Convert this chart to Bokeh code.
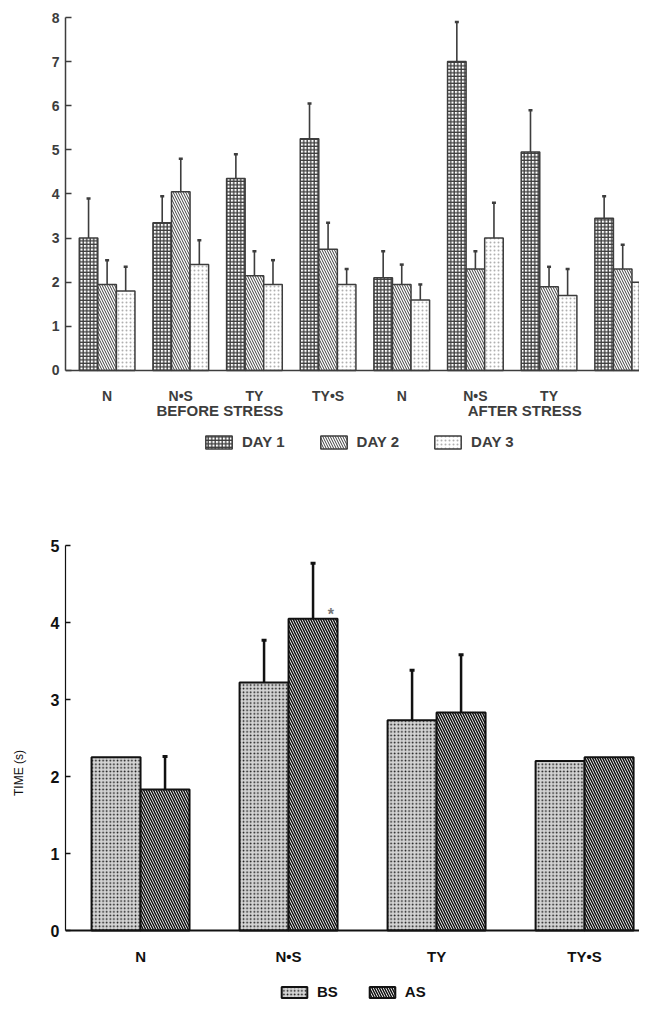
import numpy as np
from bokeh.plotting import figure
from bokeh.layouts import column
from bokeh.models import FixedTicker, Legend, LegendItem, Label, Range1d, Span
from bokeh.core.properties import value
from bokeh.embed import file_html
from bokeh.resources import INLINE

# ---------------- data: top chart (three days, before / after stress) -------------
top_groups = ["N", "N•S", "TY", "TY•S", "N", "N•S", "TY", "TY•S"]
top_tick_labels = ["N", "N•S", "TY", "TY•S", "N", "N•S", "TY", ""]
phase_labels = ["BEFORE STRESS", "AFTER STRESS"]
series_names = ["DAY 1", "DAY 2", "DAY 3"]
day1 = [3.0, 3.35, 4.35, 5.25, 2.1, 7.0, 4.95, 3.45]
day1_err = [0.9, 0.6, 0.55, 0.8, 0.6, 0.9, 0.95, 0.5]
day2 = [1.95, 4.05, 2.15, 2.75, 1.95, 2.3, 1.9, 2.3]
day2_err = [0.55, 0.75, 0.55, 0.6, 0.45, 0.4, 0.45, 0.55]
day3 = [1.8, 2.4, 1.95, 1.95, 1.6, 3.0, 1.7, 2.0]
day3_err = [0.55, 0.55, 0.55, 0.35, 0.35, 0.8, 0.6, 0.4]
top_yticks = [0, 1, 2, 3, 4, 5, 6, 7, 8]

# ---------------- data: bottom chart (BS / AS) ----------------
bot_groups = ["N", "N•S", "TY", "TY•S"]
bot_series = ["BS", "AS"]
bs = [2.25, 3.22, 2.73, 2.2]
bs_err = [np.nan, 0.55, 0.65, np.nan]
as_ = [1.83, 4.05, 2.83, 2.25]
as_err = [0.43, 0.72, 0.75, np.nan]
bot_yticks = [0, 1, 2, 3, 4, 5]
significant = "*"

FONT = "Liberation Sans"
GRAY = "#3d3d3d"
BLACK = "#111111"

# ================= TOP FIGURE =================
# frame extends below the baseline so that labels and legend are inside it
p1 = figure(width=639, height=492, x_range=Range1d(-0.565, 7.228), y_range=Range1d(-2.765, 8),
            output_backend="svg", toolbar_location=None,
            min_border_left=60, min_border_right=0, min_border_top=17, min_border_bottom=0)
p1.outline_line_color = None
p1.grid.grid_line_color = None
p1.xaxis.visible = False

xs = np.arange(len(top_groups), dtype=float)
bw = 0.252
styles = [
    dict(hatch_pattern="+", hatch_color=GRAY, hatch_scale=3.5, hatch_weight=1.3),
    dict(hatch_pattern="\\", hatch_color=GRAY, hatch_scale=5.0, hatch_weight=1.0),
    dict(hatch_pattern=".", hatch_color="#b0b0b0", hatch_scale=4.0, hatch_weight=1.0),
]
renderers = []
for k, (vals, errs) in enumerate([(day1, day1_err), (day2, day2_err), (day3, day3_err)]):
    x = xs + (k - 1) * bw
    v = np.array(vals)
    e = np.array(errs)
    p1.segment(x0=x, y0=v, x1=x, y1=v + e, line_color=GRAY, line_width=1.6)
    p1.scatter(x=x, y=v + e, marker="dash", size=4, line_width=2.5, line_color=GRAY)
    r = p1.vbar(x=x, top=v, width=bw, bottom=0, fill_color="white", line_color=GRAY,
                line_width=1.5, **styles[k])
    renderers.append(r)

p1.add_layout(Span(location=0, dimension="width", line_color=GRAY, line_width=1.5))
p1.text(x=xs, y=np.zeros(len(xs)), text=top_tick_labels, y_offset=26,
        text_align="center", text_baseline="middle", text_font=value(FONT),
        text_font_style="bold", text_font_size="14px", text_color=GRAY)
for xpos, txt in zip([1.53, 5.67], phase_labels):
    p1.add_layout(Label(x=xpos, y=0, y_offset=-40, text=txt,
                        text_align="center", text_baseline="middle", text_font=FONT,
                        text_font_style="bold", text_font_size="15px", text_color=GRAY))

p1.yaxis.bounds = (0, 8)
p1.yaxis.ticker = FixedTicker(ticks=top_yticks)
p1.yaxis.minor_tick_line_color = None
p1.yaxis.major_tick_in = 6
p1.yaxis.major_tick_out = 0
p1.yaxis.major_tick_line_color = GRAY
p1.yaxis.major_tick_line_width = 1.5
p1.yaxis.axis_line_color = GRAY
p1.yaxis.axis_line_width = 1.5
p1.yaxis.major_label_standoff = 6
p1.yaxis.major_label_text_font = FONT
p1.yaxis.major_label_text_font_style = "bold"
p1.yaxis.major_label_text_font_size = "14px"
p1.yaxis.major_label_text_color = GRAY

leg1 = Legend(items=[LegendItem(label=n, renderers=[r]) for n, r in zip(series_names, renderers)],
              orientation="horizontal", location=(133, 38), glyph_width=33, glyph_height=16,
              label_standoff=7, spacing=32, label_text_font=FONT, label_text_font_style="bold",
              label_text_font_size="15px", label_text_color=GRAY, border_line_alpha=0,
              background_fill_alpha=0, margin=0, padding=4)
p1.add_layout(leg1, "center")

# ================= BOTTOM FIGURE =================
p2 = figure(width=639, height=508, x_range=Range1d(-0.507, 3.371), y_range=Range1d(-0.909, 5),
            output_backend="svg", toolbar_location=None,
            min_border_left=65, min_border_right=0, min_border_top=53, min_border_bottom=0)
p2.outline_line_color = None
p2.grid.grid_line_color = None
p2.xaxis.visible = False

xb = np.arange(len(bot_groups), dtype=float)
bw2 = 0.331
bstyles = [
    dict(fill_color="#d4d4d4", hatch_pattern=".", hatch_color=BLACK, hatch_scale=3.6,
         hatch_weight=3.6),
    dict(fill_color="white", hatch_pattern="\\", hatch_color=BLACK, hatch_scale=5.0,
         hatch_weight=1.5),
]
brs = []
for k, (vals, errs) in enumerate([(bs, bs_err), (as_, as_err)]):
    x = xb + (k - 0.5) * bw2
    v = np.array(vals)
    e = np.array(errs)
    m = ~np.isnan(e)
    p2.segment(x0=x[m], y0=v[m], x1=x[m], y1=(v + e)[m], line_color=BLACK, line_width=2.5)
    p2.scatter(x=x[m], y=(v + e)[m], marker="dash", size=5, line_width=3, line_color=BLACK)
    r = p2.vbar(x=x, top=v, width=bw2, bottom=0, line_color=BLACK, line_width=2,
                **bstyles[k])
    brs.append(r)

p2.text(x=[xb[1] + 0.5 * bw2 + 0.12], y=[as_[1] + 0.06], text=[significant],
        text_font_size="16px", text_color="#777777", text_align="center",
        text_baseline="middle", text_font_style="bold")

p2.add_layout(Span(location=0, dimension="width", line_color=BLACK, line_width=2))
p2.text(x=xb, y=np.zeros(len(xb)), text=bot_groups, y_offset=26,
        text_align="center", text_baseline="middle", text_font=value(FONT),
        text_font_style="bold", text_font_size="15px", text_color=BLACK)

p2.yaxis.bounds = (0, 5)
p2.yaxis.ticker = FixedTicker(ticks=bot_yticks)
p2.yaxis.minor_tick_line_color = None
p2.yaxis.major_tick_in = 5
p2.yaxis.major_tick_out = 0
p2.yaxis.major_tick_line_color = BLACK
p2.yaxis.major_tick_line_width = 1.5
p2.yaxis.axis_line_color = BLACK
p2.yaxis.axis_line_width = 1.2
p2.yaxis.major_label_standoff = 6
p2.yaxis.major_label_text_font = FONT
p2.yaxis.major_label_text_font_style = "bold"
p2.yaxis.major_label_text_font_size = "16px"
p2.yaxis.major_label_text_color = BLACK
p2.yaxis.axis_label = "TIME (s)"
p2.yaxis.axis_label_text_font = FONT
p2.yaxis.axis_label_text_font_style = "normal"
p2.yaxis.axis_label_text_font_size = "12px"
p2.yaxis.axis_label_text_color = BLACK
p2.yaxis.axis_label_standoff = 22

leg2 = Legend(items=[LegendItem(label=n, renderers=[r]) for n, r in zip(bot_series, brs)],
              orientation="horizontal", location=(213, 0), glyph_width=32, glyph_height=14,
              label_standoff=7, spacing=28, label_text_font=FONT, label_text_font_style="bold",
              label_text_font_size="15px", label_text_color=BLACK, border_line_alpha=0,
              background_fill_alpha=0, margin=0, padding=0)
p2.add_layout(leg2, "center")

layout = column(p1, p2, spacing=0)
open("out.html", "w").write(file_html(layout, INLINE))
